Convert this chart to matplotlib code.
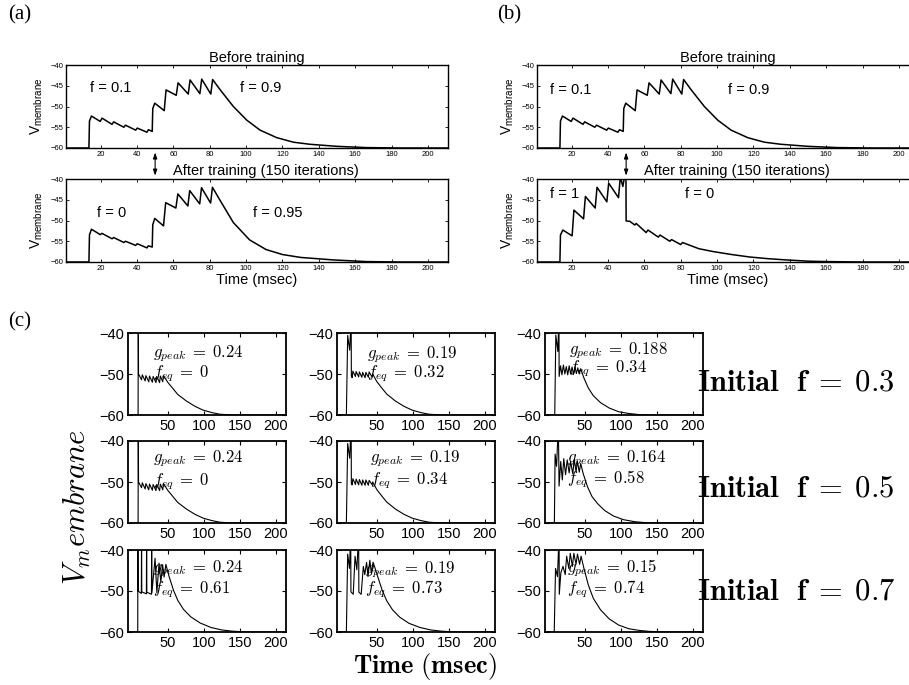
import matplotlib
matplotlib.use('Agg')
import matplotlib.pyplot as plt

W, H = 909, 685

# ---------------- panels (a) and (b): traces (msec, mV)
before_t = [0, 13.6, 13.9, 15.0, 19.8, 20.8, 26.3, 27.2, 32.8, 33.7, 39.3, 40.2, 45.5, 46.3,
            48.4, 48.7, 49.8, 55.0, 56.0, 61.6, 62.6, 68.2, 69.2, 74.6, 75.6, 80.6, 81.6,
            85.8, 93, 100.4, 107.7, 116.8, 126, 135, 150, 166, 185, 212]
before_v = [-60, -60, -53.5, -52.3, -53.6, -52.8, -54.3, -53.7, -55.0, -54.5, -55.7, -55.2, -56.2, -55.6,
            -56.0, -50.5, -49.2, -51.0, -46.0, -47.3, -44.3, -47.0, -43.6, -46.9, -43.4, -47.0, -43.5,
            -46.0, -50.0, -53.3, -55.7, -57.5, -58.6, -59.1, -59.6, -59.9, -60, -60]

after_a_t = [0, 13.6, 13.9, 15.0, 19.8, 20.8, 26.3, 27.2, 32.8, 33.7, 39.3, 40.2, 45.5, 46.3,
             48.4, 48.7, 49.8, 54.6, 55.8, 61.4, 62.5, 68.0, 69.0, 74.5, 75.5, 80.5, 81.5,
             85.5, 93, 102, 111, 120, 130, 148, 166, 185, 212]
after_a_v = [-60, -60, -53.5, -52.1, -53.4, -53.1, -54.4, -54.1, -55.3, -55.0, -56.0, -55.6, -56.6, -56.1,
             -56.4, -51.0, -49.5, -51.3, -45.7, -47.0, -43.6, -46.5, -42.8, -46.0, -42.1, -45.8, -42.0,
             -45.0, -50.5, -54.7, -57.0, -58.2, -58.9, -59.5, -59.9, -60, -60]

after_b_t = [0, 13.6, 13.9, 15.2, 20.3, 21.3, 26.6, 27.6, 33.0, 34.0, 39.4, 40.4, 45.8, 46.8,
             48.2, 49.3, 49.9, 50.0, 52.0, 54.8, 55.5, 61.0, 62.0, 67.7, 68.6, 74.0, 75.0, 80.0, 81.0,
             90, 98, 108, 118, 128, 138, 150, 160, 180, 212]
after_b_v = [-60, -60, -53.5, -52.3, -53.7, -47.5, -49.6, -44.2, -47.0, -42.0, -45.5, -41.0, -44.5, -39.5,
             -41.8, -39.0, -39.0, -50.1, -50.2, -51.1, -50.7, -52.9, -52.3, -54.0, -53.5, -55.0, -54.6, -55.8, -55.3,
             -56.8, -57.5, -58.2, -58.8, -59.2, -59.5, -59.8, -59.9, -60, -60]

# ---------------- panel (c): one trace per (row, col)
r1c1_t = [-5, 9.0, 9.2, 9.6, 13.8, 14.8, 18.8, 19.8, 23.8, 24.8, 28.8, 29.8, 33.8, 34.8, 38.8, 39.8,
          43.2, 44.2, 50, 57, 64, 76, 88, 99, 111, 122, 140, 214]
r1c1_v = [-60, -60, -36, -50.0, -51.4, -50.2, -51.7, -50.4, -51.9, -50.5, -52.0, -50.6, -52.1, -50.6, -52.1, -50.5,
          -51.9, -50.4, -52.0, -53.5, -55.0, -56.6, -57.9, -58.8, -59.4, -59.8, -60, -60]

r1c2_t = [-5, 8.0, 9.8, 12.6, 14.6, 14.9, 16.0, 17.0, 20.5, 21.5, 25.0, 26.0, 29.5, 30.5, 34.0, 35.0,
          38.5, 39.5, 43.5, 44.5, 50, 57, 64, 76, 88, 99, 111, 122, 140, 214]
r1c2_v = [-60, -60, -40.6, -44.2, -36, -50.5, -50.9, -49.3, -50.6, -49.4, -50.7, -49.5, -50.8, -49.6, -50.9, -49.6,
          -50.8, -49.5, -50.7, -50.0, -51.8, -53.4, -54.9, -56.6, -57.9, -58.8, -59.4, -59.8, -60, -60]

r1c3_t = [-5, 8.5, 10.0, 12.8, 14.3, 14.6, 16.5, 18.5, 20.5, 22.5, 24.5, 26.5, 28.5, 30.5, 32.5, 34.5,
          36.5, 38.5, 40.5, 42.5, 44.5, 49, 55, 62, 72, 84, 97, 110, 125, 140, 214]
r1c3_v = [-60, -60, -40.5, -44.5, -36, -50.6, -48.0, -50.2, -47.8, -50.0, -48.2, -50.2, -48.0, -50.0, -48.3, -50.1,
          -48.2, -49.9, -48.5, -50.0, -48.7, -51.0, -53.4, -55.3, -57.0, -58.3, -59.2, -59.6, -59.9, -60, -60]

r2c1_t = r1c1_t
r2c1_v = r1c1_v

r2c2_t = [-5, 8.0, 9.8, 12.6, 14.6, 14.9, 16.0, 17.0, 20.5, 21.5, 25.0, 26.0, 29.5, 30.5, 34.0, 35.0,
          38.5, 39.5, 43.5, 44.5, 50, 57, 64, 76, 88, 99, 111, 122, 140, 214]
r2c2_v = [-60, -60, -40.6, -44.2, -36, -50.3, -50.7, -49.2, -50.6, -49.3, -50.7, -49.4, -50.8, -49.5, -50.8, -49.5,
          -50.8, -49.6, -50.6, -50.0, -51.8, -53.4, -54.9, -56.6, -57.9, -58.8, -59.4, -59.8, -60, -60]

r2c3_t = [-5, 8.0, 9.0, 11.0, 13.5, 14.5, 16.8, 19.0, 21.0, 23.5, 25.8, 28.5, 30.5, 33.5, 35.5, 38.0,
          40.0, 42.5, 44.5, 48, 54, 60, 68, 78, 90, 104, 120, 140, 214]
r2c3_v = [-60, -60, -43.2, -46.2, -36, -51.0, -45.0, -49.5, -44.3, -48.2, -44.6, -47.8, -45.0, -48.0, -44.5, -47.5,
          -45.0, -47.6, -45.5, -48.0, -51.2, -53.5, -55.3, -57.0, -58.3, -59.2, -59.7, -60, -60]

r3c1_t = [-5, 8.5, 8.7, 9.0, 13.5, 13.8, 14.1, 20.5, 20.8, 21.1, 27.5, 27.8, 28.1, 32.5, 35.0, 38.0,
          40.5, 43.0, 45.0, 47.5, 52, 58, 64, 72, 82, 95, 110, 125, 140, 160, 214]
r3c1_v = [-60, -60, -36, -50.0, -50.6, -36, -50.2, -50.7, -36, -50.3, -50.8, -36, -50.5, -42.0, -50.4, -43.2,
          -47.8, -43.6, -46.6, -43.5, -46.5, -49.8, -52.3, -54.5, -56.3, -57.8, -58.9, -59.5, -59.8, -60, -60]

r3c2_t = [-5, 8.0, 9.8, 12.3, 14.0, 14.3, 17.5, 20.0, 22.5, 25.0, 25.3, 28.5, 31.5, 33.5, 36.0, 38.0,
          40.5, 42.5, 45.0, 47.0, 52, 58, 64, 72, 82, 95, 110, 125, 140, 160, 214]
r3c2_v = [-60, -60, -41.0, -44.5, -36, -50.2, -50.8, -41.5, -44.8, -36, -50.3, -50.8, -44.0, -46.0, -43.0, -46.5,
          -42.5, -45.5, -43.0, -44.0, -46.8, -50.0, -52.4, -54.6, -56.4, -57.9, -58.9, -59.5, -59.8, -60, -60]

r3c3_t = [-5, 7.8, 9.6, 12.3, 14.5, 14.8, 17.0, 20.0, 23.0, 25.0, 28.0, 30.0, 33.0, 35.0, 38.0, 40.0,
          43.0, 45.0, 49, 55, 62, 72, 84, 97, 111, 125, 140, 160, 214]
r3c3_v = [-60, -60, -44.5, -46.5, -36, -50.8, -45.5, -44.0, -46.0, -41.5, -44.5, -40.8, -44.0, -40.8, -43.5, -41.0,
          -43.5, -41.5, -44.5, -48.5, -51.8, -54.6, -56.8, -58.3, -59.2, -59.6, -59.85, -60, -60]

traces_c = [[(r1c1_t, r1c1_v), (r1c2_t, r1c2_v), (r1c3_t, r1c3_v)],
            [(r2c1_t, r2c1_v), (r2c2_t, r2c2_v), (r2c3_t, r2c3_v)],
            [(r3c1_t, r3c1_v), (r3c2_t, r3c2_v), (r3c3_t, r3c3_v)]]

g_peak = [["0.24", "0.19", "0.188"], ["0.24", "0.19", "0.164"], ["0.24", "0.19", "0.15"]]
f_eq = [["0", "0.32", "0.34"], ["0", "0.34", "0.58"], ["0.61", "0.73", "0.74"]]
initial_f = ["0.3", "0.5", "0.7"]

SANS = 'Liberation Sans'
SERIF = 'Liberation Serif'

fig = plt.figure(figsize=(W / 100, H / 100), dpi=100)


def box(left, top, w, h):
    return fig.add_axes([left / W, 1 - (top + h) / H, w / W, h / H])


def px(x, y):
    return x / W, 1 - y / H


def style_ab(ax):
    ax.set_xlim(1, 211)
    ax.set_ylim(-60, -40)
    ax.set_xticks(range(20, 201, 20))
    ax.set_yticks(range(-60, -39, 5))
    ax.tick_params(direction='in', top=True, right=True, length=2.5, width=0.6,
                   labelsize=5.5, pad=2)
    for lab in ax.get_xticklabels() + ax.get_yticklabels():
        lab.set_family(SANS)
    for s in ax.spines.values():
        s.set_linewidth(1.0)


# ---- (a) and (b)
panels = [(66, before_t, before_v, after_a_t, after_a_v,
           ("f = 0.1", "f = 0.9"), ("f = 0", "f = 0.95"), [(90, 88), (240, 88)], [(97, 213), (253, 213)]),
          (537, before_t, before_v, after_b_t, after_b_v,
           ("f = 0.1", "f = 0.9"), ("f = 1", "f = 0"), [(550, 90), (728, 90)], [(550, 194), (685, 194)])]

for left, bt, bv, at, av, ftop, fbot, ptop, pbot in panels:
    ax1 = box(left, 65, 382, 83)
    ax1.plot(bt, bv, color='black', lw=1.1)
    style_ab(ax1)
    ax1.set_title('Before training', family=SANS, fontsize=10.5, pad=2)
    ax2 = box(left, 179, 382, 83)
    ax2.plot(at, av, color='black', lw=1.1)
    style_ab(ax2)
    ax2.set_xlabel('Time (msec)', family=SANS, fontsize=10.5, labelpad=1)
    for ax in (ax1, ax2):
        ax.set_ylabel(r'V$_{\mathregular{membrane}}$', family=SANS, fontsize=10,
                      math_fontfamily='dejavusans', labelpad=4)
    for txt, (x, y) in zip(ftop, ptop):
        fig.text(*px(x, y), txt, family=SANS, fontsize=10.5, va='center')
    for txt, (x, y) in zip(fbot, pbot):
        fig.text(*px(x, y), txt, family=SANS, fontsize=10.5, va='center')
    cx = left + 191 + 9
    fig.text(*px(cx, 171), 'After training (150 iterations)', family=SANS, fontsize=10.5,
             ha='center', va='center')
    ax2.annotate('', xy=(50, 1.04), xytext=(50, 1.32), xycoords=('data', 'axes fraction'),
                 textcoords=('data', 'axes fraction'), annotation_clip=False,
                 arrowprops=dict(arrowstyle='<|-|>,head_length=0.35,head_width=0.12',
                                 color='black', lw=0.8, shrinkA=0, shrinkB=0))

fig.text(*px(8, 15), '(a)', family=SERIF, fontsize=15, va='center')
fig.text(*px(497, 15), '(b)', family=SERIF, fontsize=15, va='center')
fig.text(*px(8, 322), '(c)', family=SERIF, fontsize=15, va='center')

# ---- (c)
col_left = [128, 337, 545]
row_top = [333, 441, 550]
g_pos = [[(0.16, 0.75), (0.19, 0.74), (0.15, 0.79)],
         [(0.16, 0.78), (0.21, 0.78), (0.14, 0.78)],
         [(0.16, 0.77), (0.18, 0.76), (0.14, 0.78)]]
f_pos = [[(0.16, 0.50), (0.19, 0.50), (0.15, 0.56)],
         [(0.16, 0.50), (0.21, 0.52), (0.14, 0.54)],
         [(0.16, 0.52), (0.18, 0.52), (0.14, 0.52)]]
initial_y = [382, 488, 591]

for r in range(3):
    for c in range(3):
        ax = box(col_left[c], row_top[r], 158, 82)
        t, v = traces_c[r][c]
        ax.plot(t, v, color='black', lw=0.8)
        ax.set_xlim(-5, 214)
        ax.set_ylim(-60, -40)
        ax.set_xticks([50, 100, 150, 200])
        ax.set_yticks([-60, -50, -40])
        ax.tick_params(direction='in', top=True, right=True, length=3, width=0.8,
                       labelsize=10.5, pad=3)
        for lab in ax.get_xticklabels() + ax.get_yticklabels():
            lab.set_family(SANS)
        for s in ax.spines.values():
            s.set_linewidth(1.3)
        gx, gy = g_pos[r][c]
        fx, fy = f_pos[r][c]
        ax.text(gx, gy, r'$g_{peak}\;=\;%s$' % g_peak[r][c], transform=ax.transAxes,
                math_fontfamily='cm', fontsize=12, va='center')
        ax.text(fx, fy, r'$f_{eq}\;=\;%s$' % f_eq[r][c], transform=ax.transAxes,
                math_fontfamily='cm', fontsize=12, va='center')
    fig.text(*px(697, initial_y[r]), r'$\mathbf{Initial\ \ f\;=\;%s}$' % initial_f[r],
             math_fontfamily='cm', fontsize=22, va='center')

fig.text(*px(77, 507), r'$V_membrane$', math_fontfamily='cm', fontsize=22,
         rotation=90, ha='center', va='center')
fig.text(*px(425, 666), r'$\mathbf{Time\ (msec)}$', math_fontfamily='cm', fontsize=19,
         ha='center', va='center')

fig.savefig('out.png', dpi=100)
